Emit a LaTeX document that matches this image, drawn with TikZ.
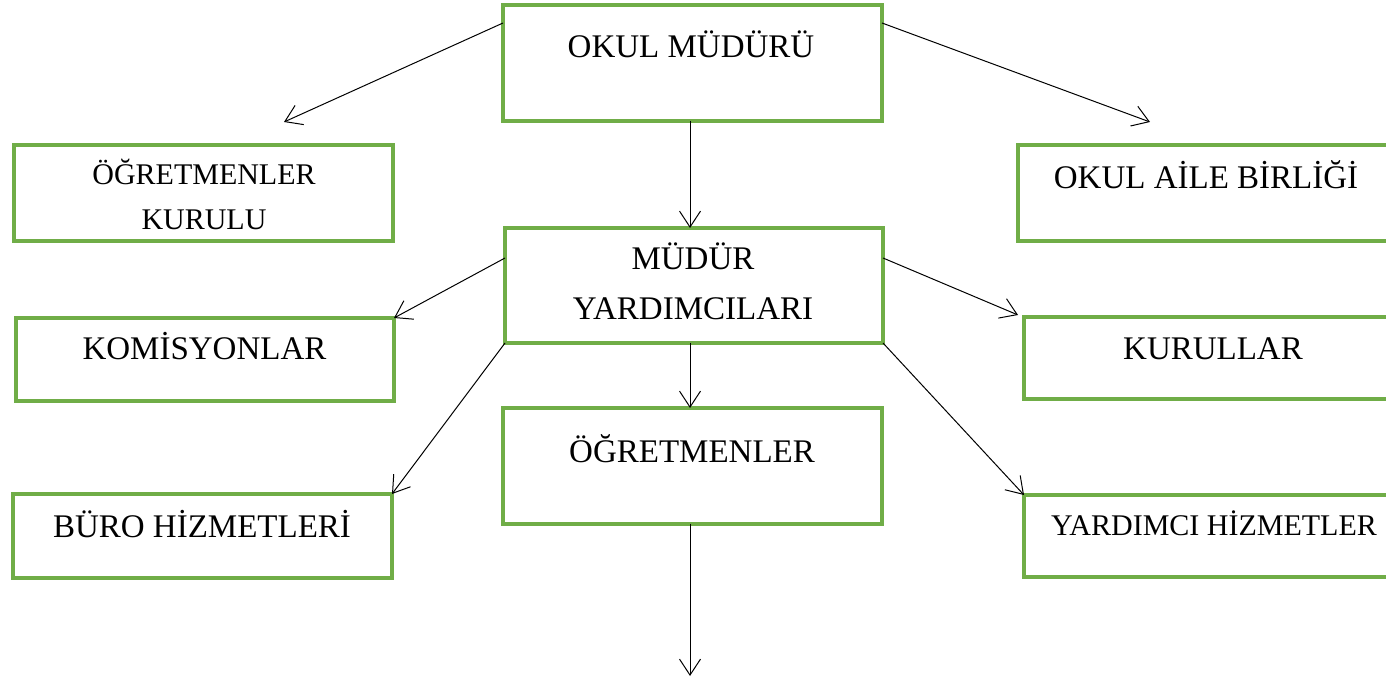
\documentclass[tikz,border=0pt]{standalone}
\usepackage{fontspec}
\setmainfont{Liberation Serif}
\usetikzlibrary{arrows.meta,calc}
\definecolor{boxgreen}{HTML}{70AD47}
\tikzset{
  orgbox/.style={draw=boxgreen, line width=1.6pt, fill=white, rectangle, inner sep=0pt, outer sep=0pt},
  lbl/.style={anchor=base, inner sep=0pt, font=\fontsize{16.5}{20}\selectfont},
  lblsmall/.style={anchor=base, inner sep=0pt, font=\fontsize{15}{18}\selectfont},
  conn/.style={draw=black, line width=0.5pt, -{Straight Barb[length=8pt,width=10.5pt]}}
}
\begin{document}
\begin{tikzpicture}[x=0.5pt,y=-0.5pt]
\clip (0,0) rectangle (1386,678);
\fill[white] (0,0) rectangle (1386,678);
% boxes
\node[orgbox, minimum width=189.5pt, minimum height=58pt] (om) at (692.5,63) {};
\node[orgbox, minimum width=189.5pt, minimum height=48pt] (ok) at (203.5,193) {};
\node[orgbox, minimum width=189.5pt, minimum height=48pt] (oab) at (1207.5,193) {};
\node[orgbox, minimum width=189pt, minimum height=57.5pt] (my) at (694,285.5) {};
\node[orgbox, minimum width=189pt, minimum height=41.5pt] (kom) at (205,359.5) {};
\node[orgbox, minimum width=189.5pt, minimum height=41pt] (kur) at (1213.5,358) {};
\node[orgbox, minimum width=189.5pt, minimum height=58pt] (ogr) at (692.5,466) {};
\node[orgbox, minimum width=189.5pt, minimum height=42pt] (buro) at (202.5,536) {};
\node[orgbox, minimum width=189.5pt, minimum height=41pt] (yh) at (1213.5,536) {};
% texts
\node[lbl] (tom) at (691,58) {OKUL MÜDÜRÜ};
\node[lblsmall] (tok1) at (204,185) {ÖĞRETMENLER};
\node[lblsmall] (tok2) at (204,230) {KURULU};
\node[lbl] (toab) at (1206,189) {OKUL AİLE BİRLİĞİ};
\node[lbl] (tmy1) at (693,270) {MÜDÜR};
\node[lbl] (tmy2) at (693,320) {YARDIMCILARI};
\node[lbl] (tkom) at (204.5,360) {KOMİSYONLAR};
\node[lbl] (tkur) at (1213,360) {KURULLAR};
\node[lbl] (togr) at (692,462) {ÖĞRETMENLER};
\node[lbl] (tburo) at (202,537) {BÜRO HİZMETLERİ};
\node[lblsmall] (tyh) at (1214,535) {YARDIMCI HİZMETLER};
% connectors
\coordinate (okTip) at ($(ok.north)+(80.5,-23)$);
\coordinate (oabTip) at ($(oab.north west)+(132,-23)$);
\coordinate (kurTip) at ($(kur.north west)+(-6,-2)$);
\coordinate (endTip) at (690,676);
\draw[conn] ($(om.north west)+(0,18)$) -- (okTip);
\draw[conn] ($(om.north east)+(0,18)$) -- (oabTip);
\draw[conn] (om.south -| endTip) -- (my.north -| endTip);
\draw[conn] ($(my.north west)+(0,30)$) -- (kom.north east);
\draw[conn] ($(my.north east)+(0,30)$) -- (kurTip);
\draw[conn] (my.south west) -- (buro.north east);
\draw[conn] (my.south east) -- (yh.north west);
\draw[conn] (my.south -| endTip) -- (ogr.north -| endTip);
\draw[conn] (ogr.south -| endTip) -- (endTip);
\end{tikzpicture}
\end{document}
